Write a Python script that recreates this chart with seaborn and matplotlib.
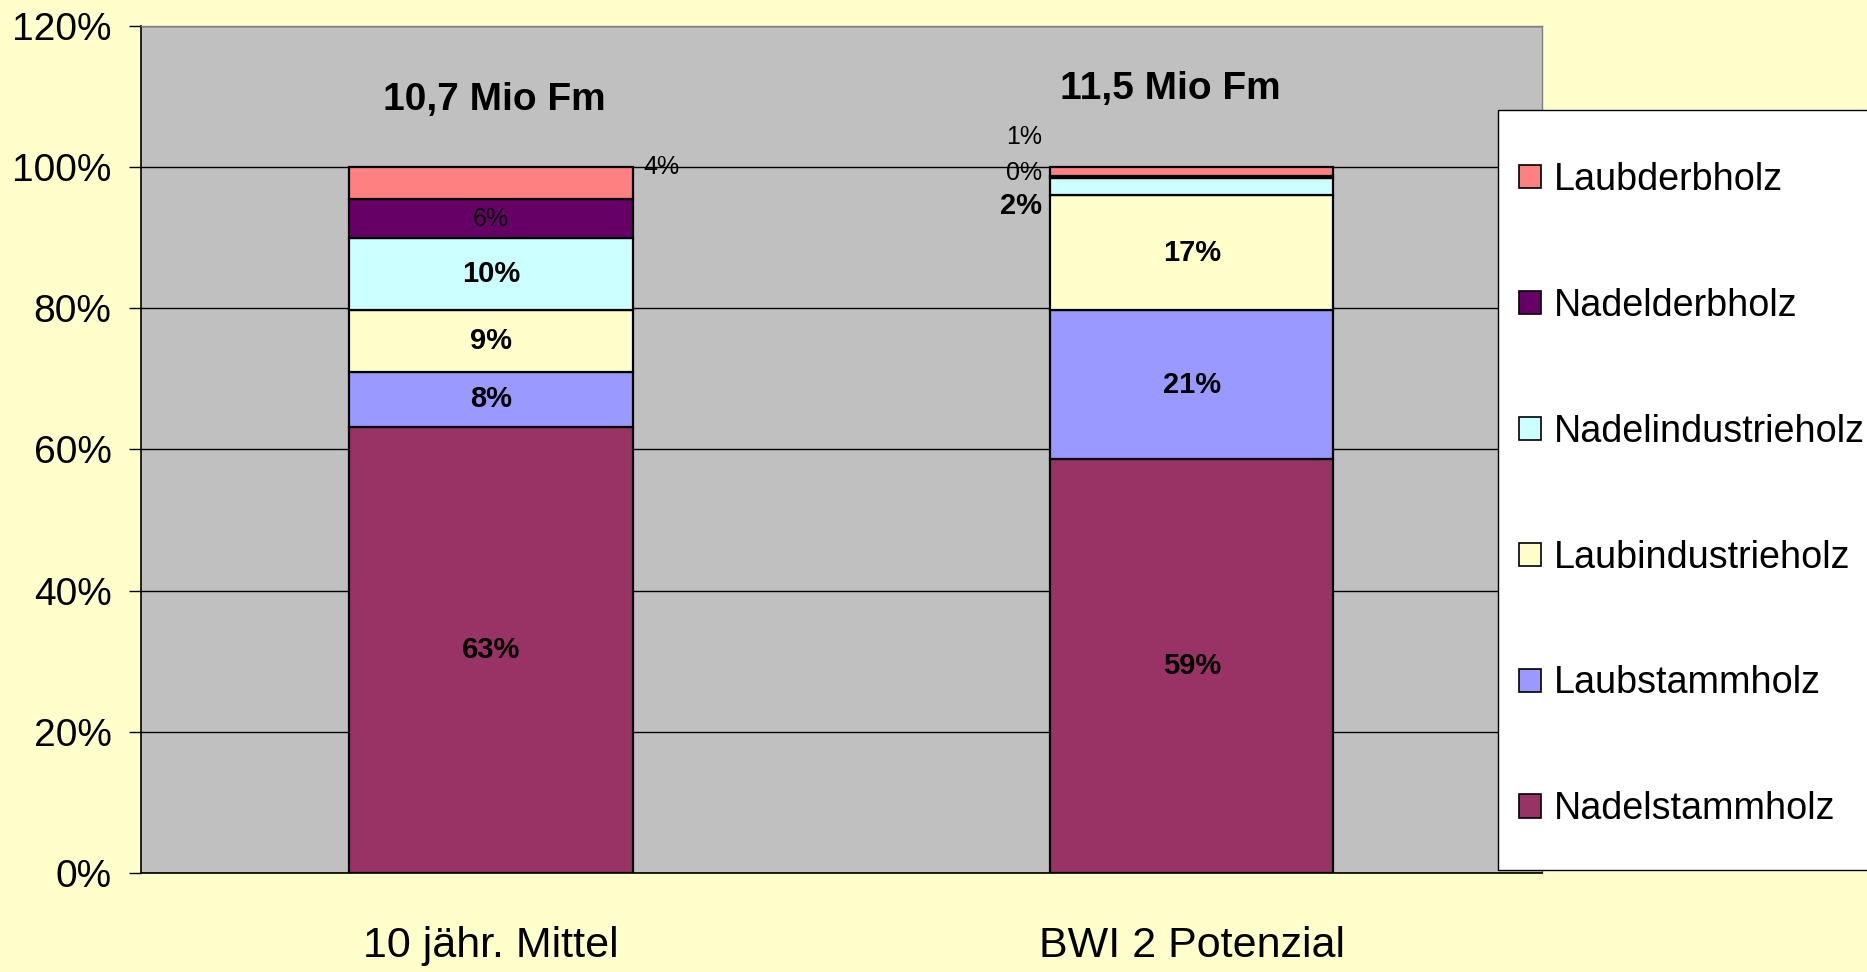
import matplotlib
matplotlib.use("Agg")
import matplotlib.pyplot as plt
import pandas as pd
import seaborn as sns
from matplotlib.patches import Patch, Rectangle

# Daten
kategorien = ["10 jähr. Mittel", "BWI 2 Potenzial"]
sortimente = ["Nadelstammholz", "Laubstammholz", "Laubindustrieholz",
              "Nadelindustrieholz", "Nadelderbholz", "Laubderbholz"]
mittel = [63.2, 7.8, 8.8, 10.1, 5.6, 4.5]
potenzial = [58.7, 21.0, 16.4, 2.3, 0.4, 1.2]
beschriftung_mittel = ["63%", "8%", "9%", "10%", "6%", "4%"]
beschriftung_potenzial = ["59%", "21%", "17%", "2%", "0%", "1%"]
mengen = ["10,7 Mio Fm", "11,5 Mio Fm"]
farben = ["#993366", "#9999FF", "#FFFFCC", "#CCFFFF", "#660066", "#FF8080"]

df = pd.DataFrame({"Kategorie": kategorien * 6,
                   "Sortiment": [s for s in sortimente for _ in kategorien],
                   "Anteil": [v for pair in zip(mittel, potenzial) for v in pair]})

sns.set_theme(style="white")
plt.rcParams["font.family"] = ["Liberation Sans", "DejaVu Sans"]
plt.rcParams["text.color"] = "black"
plt.rcParams["xtick.color"] = "black"
plt.rcParams["ytick.color"] = "black"

fig = plt.figure(figsize=(18.67, 9.72), dpi=100, facecolor="#FFFFCC")
ax = fig.add_axes([0.0753, 0.1019, 0.7507, 0.8714])
ax.set_facecolor("#C0C0C0")

breite = 0.404
unten = [0.0, 0.0]
for sortiment, farbe in zip(sortimente, farben):
    teil = df[df["Sortiment"] == sortiment]
    sns.barplot(data=teil, x="Kategorie", y="Anteil", order=kategorien,
                color=farbe, saturation=1, width=breite, bottom=unten,
                edgecolor="black", linewidth=1.6, ax=ax, zorder=3)
    unten = [u + v for u, v in zip(unten, teil["Anteil"].tolist())]

# Beschriftungen in den Balken
fett_mittel = [True, True, True, True, False, False]
basis = 0.0
for i, (v, t) in enumerate(zip(mittel, beschriftung_mittel)):
    mitte = basis + v / 2
    basis += v
    if i == 5:
        ax.text(breite / 2 + 0.015, 100.0, t, ha="left", va="center", fontsize=18)
    else:
        ax.text(0, mitte, t, ha="center", va="center", fontsize=21 if fett_mittel[i] else 18,
                fontweight="bold" if fett_mittel[i] else "normal", zorder=5)

basis = 0.0
seitlich_y = {3: 94.5, 4: 99.2, 5: 104.3}
for i, (v, t) in enumerate(zip(potenzial, beschriftung_potenzial)):
    mitte = basis + v / 2
    basis += v
    if i in seitlich_y:
        ax.text(1 - breite / 2 - 0.012, seitlich_y[i], t, ha="right", va="center",
                fontsize=21 if i == 3 else 18, fontweight="bold" if i == 3 else "normal")
    else:
        ax.text(1, mitte, t, ha="center", va="center", fontsize=21, fontweight="bold", zorder=5)

ax.text(0.005, 109.5, mengen[0], ha="center", va="center", fontsize=28, fontweight="bold")
ax.text(0.97, 111.0, mengen[1], ha="center", va="center", fontsize=28, fontweight="bold")

# Achsen
ax.set_ylim(0, 120)
ax.set_xlim(-0.5, 1.5)
ax.set_yticks(range(0, 121, 20))
ax.set_yticklabels([f"{t}%" for t in range(0, 121, 20)], fontsize=28)
ax.yaxis.grid(True, color="black", linewidth=1.0)
ax.set_axisbelow(True)
ax.set_xticks([0, 1])
ax.set_xticklabels(kategorien, fontsize=31)
ax.set_xticks([-0.5, 0.5, 1.5], minor=True)
ax.tick_params(axis="x", which="major", length=0, pad=38)
ax.tick_params(axis="x", which="minor", length=9, width=1, color="black", direction="out")
ax.tick_params(axis="y", length=9, width=1, color="black", direction="out", pad=12, left=True)
ax.set_xlabel("")
ax.set_ylabel("")
for seite in ["left", "bottom"]:
    ax.spines[seite].set_color("black")
    ax.spines[seite].set_linewidth(1.2)
for seite in ["top", "right"]:
    ax.spines[seite].set_color("#808080")
    ax.spines[seite].set_linewidth(1.0)

# Legende mit eigenem Rahmen
rahmen = Rectangle((0.8024, 1 - 870 / 972), 0.3, (870 - 110) / 972, transform=fig.transFigure,
                   facecolor="white", edgecolor="black", linewidth=1.0, zorder=4)
fig.patches.append(rahmen)
griffe = [Patch(facecolor=f, edgecolor="black", linewidth=1.2, label=s)
          for s, f in zip(sortimente, farben)][::-1]
leg = fig.legend(handles=griffe, loc="upper left", bbox_to_anchor=(0.8136, 0.8335),
                 fontsize=27.2, frameon=False, borderpad=0,
                 labelspacing=2.38, handlelength=0.57, handleheight=0.57,
                 handletextpad=0.36, borderaxespad=0)
leg.set_zorder(5)

fig.savefig("out.png", dpi=100, facecolor=fig.get_facecolor())
